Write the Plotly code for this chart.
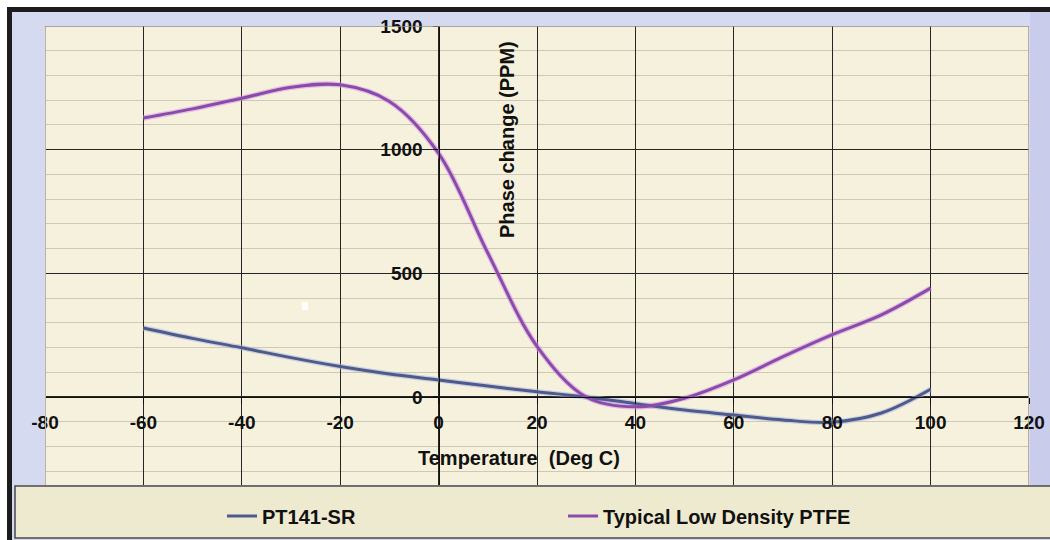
import plotly.graph_objects as go

# ---- data ----
temps = [-60, -50, -40, -30, -20, -10, 0, 10, 20, 30, 40, 50, 60, 70, 80, 90, 100]
pt141_sr = [279, 237, 199, 159, 123, 93, 69, 44, 21, 0, -27, -53, -73, -93, -102, -65, 31]
ptfe_low_density = [1128, 1165, 1208, 1252, 1262, 1195, 985, 582, 205, 0, -40, -5, 69, 163, 252, 332, 440]
series_names = ["PT141-SR", "Typical Low Density PTFE"]
x_tick_vals = [-80, -60, -40, -20, 0, 20, 40, 60, 80, 100, 120]
x_tick_text = ["-80", "-60", "-40", "-20", "0", "20", "40", "60", "80", "100", "120"]
y_tick_vals = [0, 500, 1000, 1500]
y_tick_text = ["0", "500", "1000", "1500"]
x_title = "Temperature  (Deg C)"
y_title = "Phase change (PPM)"

# ---- layout geometry (pixels) ----
W, H = 1050, 540
L, R, T, B = 45, 21, 26, 55
PW, PH = W - L - R, H - T - B
X_RANGE = [-80, 120]
Y_RANGE = [-356, 1500]


def pxx(p):
    return (p - L) / PW


def pxy(p):
    return (H - B - p) / PH


FONT = "Liberation Sans, Arial, sans-serif"
BLUE = "#4f5a8c"
PURPLE = "#8a4cab"
EDGE = "#b9b5a6"

fig = go.Figure()
# soft halos under the lines
fig.add_trace(go.Scatter(x=temps, y=pt141_sr, mode="lines", showlegend=False, hoverinfo="skip",
                         line=dict(color="rgba(170,180,220,0.55)", width=5.5, shape="spline", smoothing=1.0)))
fig.add_trace(go.Scatter(x=temps, y=ptfe_low_density, mode="lines", showlegend=False, hoverinfo="skip",
                         line=dict(color="rgba(215,150,230,0.55)", width=5.5, shape="spline", smoothing=1.0)))
fig.add_trace(go.Scatter(x=temps, y=pt141_sr, name=series_names[0], mode="lines",
                         line=dict(color=BLUE, width=3, shape="spline", smoothing=1.0)))
fig.add_trace(go.Scatter(x=temps, y=ptfe_low_density, name=series_names[1], mode="lines",
                         line=dict(color=PURPLE, width=3, shape="spline", smoothing=1.0)))

x_axis_pos = (0 - Y_RANGE[0]) / (Y_RANGE[1] - Y_RANGE[0])
y_axis_pos = (0 - X_RANGE[0]) / (X_RANGE[1] - X_RANGE[0])

fig.update_layout(
    width=W, height=H,
    margin=dict(l=L, r=R, t=T, b=B, pad=0, autoexpand=False),
    paper_bgcolor="#d6daf0",
    plot_bgcolor="#f6f1dd",
    font=dict(family=FONT, color="#111111"),
    xaxis=dict(range=X_RANGE, tickmode="array", tickvals=x_tick_vals, ticktext=x_tick_text,
               automargin=False,
               showgrid=True, gridcolor="#262626", gridwidth=1,
               zeroline=False, showline=True, linecolor="#111111", linewidth=1.3,
               anchor="free", position=x_axis_pos,
               ticks="outside", ticklen=6, tickcolor="#111111",
               ticklabelstandoff=2,
               tickfont=dict(size=19, family=FONT, weight="bold", color="#111111")),
    yaxis=dict(range=Y_RANGE, tickmode="array", tickvals=y_tick_vals, ticktext=y_tick_text,
               automargin=False,
               showgrid=True, gridcolor="#262626", gridwidth=1,
               minor=dict(tickmode="linear", tick0=0, dtick=100, showgrid=True,
                          gridcolor="#cfc9b3", gridwidth=1, ticks=""),
               zeroline=False, showline=True, linecolor="#111111", linewidth=1.3,
               anchor="free", position=y_axis_pos,
               ticks="outside", ticklen=5, tickcolor="#111111",
               ticklabelstandoff=7,
               tickfont=dict(size=19, family=FONT, weight="bold", color="#111111")),
    showlegend=True,
    legend=dict(orientation="h", x=pxx(222), y=pxy(516), xanchor="left", yanchor="middle",
                bgcolor="rgba(0,0,0,0)", borderwidth=0,
                entrywidth=296, entrywidthmode="pixels", itemwidth=30,
                font=dict(size=20, family=FONT, weight="bold", color="#111111")),
)

shapes = [
    # white outside strips
    dict(type="rect", xref="paper", yref="paper", x0=pxx(0), x1=pxx(W), y0=pxy(0), y1=pxy(7),
         fillcolor="white", line=dict(width=0), layer="below"),
    dict(type="rect", xref="paper", yref="paper", x0=pxx(0), x1=pxx(7), y0=pxy(0), y1=pxy(H),
         fillcolor="white", line=dict(width=0), layer="below"),
    # dark frame
    dict(type="rect", xref="paper", yref="paper", x0=pxx(7), x1=pxx(W), y0=pxy(7), y1=pxy(12),
         fillcolor="#1c1c1c", line=dict(width=0), layer="below"),
    dict(type="rect", xref="paper", yref="paper", x0=pxx(7), x1=pxx(12), y0=pxy(7), y1=pxy(H),
         fillcolor="#1c1c1c", line=dict(width=0), layer="below"),
    # right lavender strip a bit deeper
    dict(type="rect", xref="paper", yref="paper", x0=pxx(1030), x1=pxx(W), y0=pxy(12), y1=pxy(486),
         fillcolor="#c9cceb", line=dict(width=0), layer="below"),
    # legend box
    dict(type="rect", xref="paper", yref="paper", x0=pxx(15), x1=pxx(W + 5), y0=pxy(486), y1=pxy(538),
         fillcolor="#eeead0", line=dict(color="#4a4a4a", width=1.5), layer="below"),
    # soft plot-area edges
    dict(type="line", xref="x", yref="paper", x0=X_RANGE[0], x1=X_RANGE[0], y0=0, y1=1,
         line=dict(color=EDGE, width=2), layer="above"),
    dict(type="line", xref="x", yref="paper", x0=X_RANGE[1], x1=X_RANGE[1], y0=0, y1=1,
         line=dict(color="#9e9a8c", width=1.5), layer="above"),
    dict(type="line", xref="paper", yref="y", x0=0, x1=1, y0=Y_RANGE[1], y1=Y_RANGE[1],
         line=dict(color="#8f8b80", width=1.5), layer="above"),
    # small white speck inside plot
    dict(type="rect", xref="paper", yref="paper", x0=pxx(302), x1=pxx(308), y0=pxy(302), y1=pxy(310),
         fillcolor="white", line=dict(width=0), layer="above"),
]
fig.update_layout(shapes=shapes)

fig.add_annotation(text=y_title, xref="paper", yref="paper", x=pxx(507), y=pxy(140),
                   textangle=-90, showarrow=False, xanchor="center", yanchor="middle",
                   font=dict(size=20, family=FONT, weight="bold", color="#111111"))
fig.add_annotation(text=x_title, xref="paper", yref="paper", x=pxx(519), y=pxy(458),
                   showarrow=False, xanchor="center", yanchor="middle",
                   font=dict(size=20, family=FONT, weight="bold", color="#111111"))

fig.write_html("out.html", config={"displayModeBar": False},
               post_script="document.body.style.margin='0';document.body.style.overflow='hidden';")
